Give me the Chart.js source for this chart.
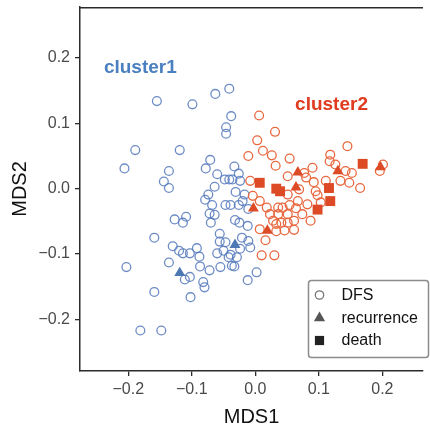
<!DOCTYPE html>
<html>
<head>
<meta charset="utf-8">
<title>MDS clusters</title>
<script src="https://cdn.jsdelivr.net/npm/chart.js@4.4.0/dist/chart.umd.min.js"></script>
<style>
  html, body { margin: 0; padding: 0; background: #fff; }
  #mdsChart { display: block; }
</style>
</head>
<body>
<canvas id="mdsChart" width="430" height="430"></canvas>
<script>
// ── MDS coordinates, [MDS1, MDS2] per sample ──
const cluster1Dfs = [
  [-0.155, 0.134], [-0.099, 0.129], [-0.063, 0.145], [-0.041, 0.153], [-0.038, 0.111],
  [-0.046, 0.094], [-0.046, 0.084], [-0.189, 0.059], [-0.119, 0.059], [-0.206, 0.031],
  [-0.136, 0.027], [-0.144, 0.011], [-0.136, 0.001], [-0.071, 0.044], [-0.078, 0.031],
  [-0.033, 0.034], [-0.026, 0.023], [-0.060, 0.022], [-0.048, 0.014], [-0.041, 0.014],
  [-0.036, 0.014], [-0.064, 0.003], [-0.031, -0.005], [-0.017, -0.009], [-0.074, -0.009],
  [-0.079, -0.017], [-0.068, -0.025], [-0.047, -0.025], [-0.039, -0.025], [-0.026, -0.025],
  [-0.020, -0.019], [-0.024, 0.012], [-0.011, -0.031], [-0.127, -0.047], [-0.109, -0.043],
  [-0.114, -0.052], [-0.064, -0.040], [-0.072, -0.038], [-0.070, -0.052], [-0.032, -0.048],
  [-0.025, -0.052], [-0.012, -0.057], [-0.159, -0.075], [-0.130, -0.088], [-0.120, -0.095],
  [-0.114, -0.099], [-0.103, -0.099], [-0.092, -0.091], [-0.088, -0.104], [-0.056, -0.069],
  [-0.056, -0.081], [-0.047, -0.082], [-0.021, -0.075], [-0.011, -0.080], [-0.024, -0.092],
  [-0.060, -0.099], [-0.050, -0.095], [-0.039, -0.101], [-0.042, -0.105], [-0.029, -0.105],
  [-0.037, -0.118], [-0.033, -0.119], [-0.055, -0.120], [-0.072, -0.125], [-0.087, -0.119],
  [-0.136, -0.113], [-0.203, -0.120], [-0.111, -0.139], [-0.103, -0.135], [-0.082, -0.143],
  [-0.080, -0.151], [-0.012, -0.140], [-0.159, -0.158], [-0.102, -0.166], [-0.181, -0.217],
  [-0.148, -0.217], [0.002, -0.128], [-0.008, -0.090],
];
const cluster1Recurrence = [[-0.032, -0.086], [-0.119, -0.129]];

const cluster2Dfs = [
  [0.006, 0.112], [0.031, 0.087], [0.003, 0.074], [0.012, 0.058], [0.026, 0.051],
  [-0.011, 0.050], [0.032, 0.035], [0.054, 0.046], [0.145, 0.065], [0.118, 0.052],
  [0.117, 0.042], [0.126, 0.037], [0.142, 0.027], [0.152, 0.024], [0.090, 0.032],
  [0.077, 0.024], [0.051, 0.019], [0.080, 0.017], [0.092, 0.010], [0.111, 0.012],
  [0.134, 0.012], [0.148, 0.009], [0.165, 0.001], [0.196, 0.027], [0.201, 0.037],
  [-0.008, 0.012], [-0.004, -0.011], [0.051, -0.009], [0.069, -0.001], [0.095, -0.004],
  [0.098, -0.010], [0.067, -0.019], [0.082, -0.024], [0.103, -0.021], [0.018, -0.029],
  [0.036, -0.029], [0.043, -0.029], [0.064, -0.030], [0.074, -0.039], [0.023, -0.039],
  [0.036, -0.039], [0.051, -0.039], [0.087, -0.049], [0.007, -0.062], [0.033, -0.054],
  [0.041, -0.052], [0.033, -0.065], [0.061, -0.063], [0.016, -0.079], [0.010, -0.102],
  [0.030, -0.102], [0.007, -0.019], [0.054, -0.025], [0.028, -0.049], [0.051, -0.052],
  [0.061, -0.049], [0.046, -0.064],
];
const cluster2Recurrence = [
  [0.067, 0.025], [0.064, 0.002], [0.130, 0.027], [0.197, 0.033], [-0.003, -0.030], [0.019, -0.064],
];
const cluster2Death = [
  [0.007, 0.009], [0.033, 0.000], [0.039, -0.004], [0.116, 0.001], [0.118, -0.019],
  [0.098, -0.032], [0.169, 0.038],
];

const tickValues = [-0.2, -0.1, 0.0, 0.1, 0.2];
const legendLabels = ['DFS', 'recurrence', 'death'];
const clusterNames = ['cluster1', 'cluster2'];

// ── Colors ──
const colors = {
  blueRing: 'rgba(84, 120, 188, 0.85)',
  blueFill: '#4d78b4',
  blueText: '#4a7fc0',
  redRing: '#e8683f',
  redFill: '#dd4a26',
  redText: '#e03a1f',
  frame: '#2b2b2b',
  tick: '#4a4a4a',
  title: '#111',
  legendBorder: '#8c8c8c',
};

const FONT = '"Liberation Sans", Arial, Helvetica, sans-serif';

const toXY = (pairs) => pairs.map(([x, y]) => ({ x, y }));
const fmtTick = (v) => (v < 0 ? '\u2212' : '') + Math.abs(v).toFixed(1);

function ring(label, pairs, color, order) {
  return {
    label,
    data: toXY(pairs),
    pointStyle: 'circle',
    pointRadius: 4.4,
    pointBorderWidth: 1.3,
    pointBorderColor: color,
    pointBackgroundColor: 'rgba(255,255,255,0)',
    order,
  };
}

function solid(label, pairs, style, color, radius) {
  return {
    label,
    data: toXY(pairs),
    pointStyle: style,
    pointRadius: radius,
    pointBorderWidth: 0,
    pointBackgroundColor: color,
    pointBorderColor: color,
    order: 0,
  };
}

// ── Top frame, cluster names and the marker key ──
const overlay = {
  id: 'mdsOverlay',
  afterDraw(chart) {
    const { ctx, chartArea, scales } = chart;
    ctx.save();

    ctx.strokeStyle = colors.frame;
    ctx.lineWidth = 1.5;
    ctx.beginPath();
    ctx.moveTo(chartArea.left - 0.75, chartArea.top + 0.75);
    ctx.lineTo(chartArea.right, chartArea.top + 0.75);
    ctx.stroke();

    ctx.font = `bold 19px ${FONT}`;
    ctx.textAlign = 'center';
    ctx.textBaseline = 'middle';
    ctx.fillStyle = colors.blueText;
    ctx.fillText(clusterNames[0], scales.x.getPixelForValue(-0.181), scales.y.getPixelForValue(0.185));
    ctx.fillStyle = colors.redText;
    ctx.fillText(clusterNames[1], scales.x.getPixelForValue(0.120), scales.y.getPixelForValue(0.129));

    // key box
    const bx = 308.5, by = 280.5, bw = 120, bh = 77;
    ctx.strokeStyle = colors.legendBorder;
    ctx.lineWidth = 1.5;
    ctx.beginPath();
    ctx.roundRect(bx, by, bw, bh, 3);
    ctx.stroke();

    const rows = [295, 318, 340.5];
    const mx = 319.5, tx = 341.5;

    ctx.strokeStyle = '#777';
    ctx.lineWidth = 1.3;
    ctx.beginPath();
    ctx.arc(mx, rows[0], 4.2, 0, Math.PI * 2);
    ctx.stroke();

    ctx.fillStyle = '#555';
    Chart.helpers.drawPoint(ctx, { pointStyle: 'triangle', radius: 6.5, borderWidth: 0 }, mx, rows[1]);
    ctx.fillStyle = '#222';
    Chart.helpers.drawPoint(ctx, { pointStyle: 'rect', radius: 6.5, borderWidth: 0 }, mx, rows[2]);

    ctx.font = `16px ${FONT}`;
    ctx.textAlign = 'left';
    ctx.fillStyle = colors.title;
    legendLabels.forEach((t, i) => ctx.fillText(t, tx, rows[i] + 0.5));

    ctx.restore();
  },
};

const axisCommon = {
  type: 'linear',
  border: { display: true, color: colors.frame, width: 1.5 },
  grid: { display: true, drawOnChartArea: false, drawTicks: true, tickLength: 5, color: colors.frame, lineWidth: 1.3 },
  afterBuildTicks: (scale) => { scale.ticks = tickValues.map((value) => ({ value })); },
};

new Chart(document.getElementById('mdsChart'), {
  type: 'scatter',
  data: {
    datasets: [
      ring('DFS cluster1', cluster1Dfs, colors.blueRing, 3),
      ring('DFS cluster2', cluster2Dfs, colors.redRing, 2),
      solid('recurrence cluster1', cluster1Recurrence, 'triangle', colors.blueFill, 6.3),
      solid('recurrence cluster2', cluster2Recurrence, 'triangle', colors.redFill, 6.3),
      solid('death cluster2', cluster2Death, 'rect', colors.redFill, 7),
    ],
  },
  options: {
    responsive: false,
    animation: false,
    layout: { padding: { top: 5, right: 1, left: 0, bottom: 0 } },
    plugins: {
      legend: { display: false },
      tooltip: { enabled: false },
    },
    scales: {
      x: {
        ...axisCommon,
        position: 'bottom',
        min: -0.276,
        max: 0.264,
        afterFit: (scale) => {
          scale.height = 59;
          scale.paddingLeft = 0;
          scale.paddingRight = 0;
        },
        ticks: { padding: 4, color: colors.tick, font: { size: 16, family: FONT }, callback: fmtTick },
        title: { display: true, text: 'MDS1', color: colors.title, font: { size: 20, family: FONT }, padding: { top: 0, bottom: 1 } },
      },
      y: {
        ...axisCommon,
        position: 'left',
        min: -0.279,
        max: 0.278,
        afterFit: (scale) => {
          scale.width = 80;
          scale.paddingTop = 0;
          scale.paddingBottom = 0;
        },
        ticks: { padding: 5, color: colors.tick, font: { size: 16, family: FONT }, callback: fmtTick },
        title: { display: true, text: 'MDS2', color: colors.title, font: { size: 20, family: FONT }, padding: { top: 8, bottom: 0 } },
      },
    },
  },
  plugins: [overlay],
});
</script>
</body>
</html>
